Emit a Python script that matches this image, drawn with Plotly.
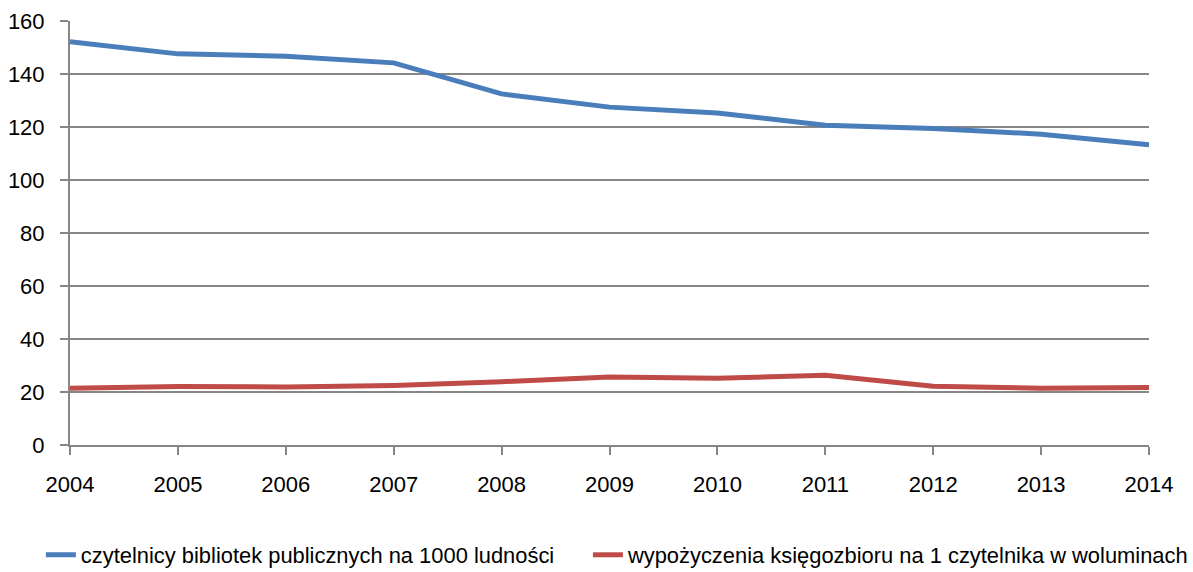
import plotly.graph_objects as go

years = [2004, 2005, 2006, 2007, 2008, 2009, 2010, 2011, 2012, 2013, 2014]
readers = [152.2, 147.6, 146.7, 144.2, 132.5, 127.5, 125.3, 120.7, 119.4, 117.3, 113.3]
loans = [21.4, 22.1, 21.9, 22.5, 23.9, 25.7, 25.2, 26.3, 22.2, 21.4, 21.7]
name_readers = "czytelnicy bibliotek publicznych na 1000 ludności"
name_loans = "wypożyczenia księgozbioru na 1 czytelnika w woluminach"
y_ticks = [0, 20, 40, 60, 80, 100, 120, 140, 160]

FONT = "Liberation Sans, Arial, sans-serif"

fig = go.Figure()
fig.add_trace(go.Scatter(x=years, y=readers, mode="lines", name=name_readers,
                         line=dict(color="#4A7EBB", width=5), legend="legend"))
fig.add_trace(go.Scatter(x=years, y=loans, mode="lines", name=name_loans,
                         line=dict(color="#BE4B48", width=5), legend="legend2"))

leg_common = dict(orientation="h", y=-0.21, yanchor="top", xanchor="left",
                  font=dict(family=FONT, size=21.9), itemwidth=30, tracegroupgap=0)

fig.update_layout(
    width=1193, height=572,
    margin=dict(l=70, r=44, t=21, b=127, autoexpand=False),
    paper_bgcolor="white", plot_bgcolor="white",
    font=dict(family=FONT, size=22, color="#000000"),
    showlegend=True,
    legend=dict(x=-0.027, **leg_common),
    legend2=dict(x=0.480, **leg_common),
)
fig.update_xaxes(
    range=[2004, 2014], tickmode="array", tickvals=years, ticktext=[str(y) for y in years],
    showgrid=False, showline=True, linecolor="#868686", linewidth=2,
    ticks="outside", ticklen=8, tickwidth=2, tickcolor="#868686",
    ticklabelstandoff=11, zeroline=False, automargin=False,
)
fig.update_yaxes(
    range=[0, 160], tickmode="array", tickvals=y_ticks,
    showgrid=True, gridcolor="#868686", gridwidth=2,
    showline=True, linecolor="#868686", linewidth=2,
    ticks="outside", ticklen=8, tickwidth=2, tickcolor="#868686",
    ticklabelstandoff=11, zeroline=False, automargin=False,
)

fig.write_html("out.html", config={"displayModeBar": False},
               post_script="document.body.style.margin='0';")
